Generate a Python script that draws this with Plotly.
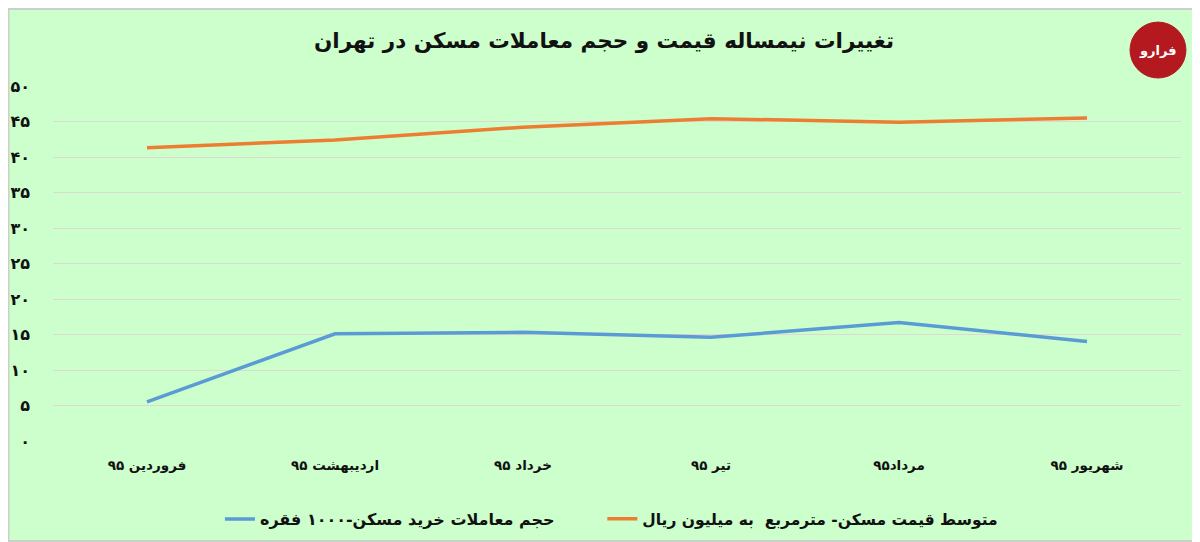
"""Half-year changes of housing price and deal volume in Tehran (1395)."""

import plotly.graph_objects as go

MONTHS = ["فروردین ۹۵", "اردیبهشت ۹۵", "خرداد ۹۵", "تیر ۹۵", "مرداد۹۵", "شهریور ۹۵"]
DEALS = [5.5, 15.1, 15.3, 14.6, 16.7, 14.0]
PRICE = [41.3, 42.4, 44.2, 45.4, 44.9, 45.5]

DEALS_NAME = "حجم معاملات خرید مسکن-۱۰۰۰ فقره"
PRICE_NAME = "متوسط قیمت مسکن- مترمربع  به میلیون ریال"
TITLE = "تغییرات نیمساله قیمت و حجم معاملات مسکن در تهران"

Y_TICKS = [0, 5, 10, 15, 20, 25, 30, 35, 40, 45, 50]
Y_TICK_TEXT = ["۰", "۵", "۱۰", "۱۵", "۲۰", "۲۵", "۳۰", "۳۵", "۴۰", "۴۵", "۵۰"]

FONT = "DejaVu Sans"
BG = "#ccffcc"

fig = go.Figure()
fig.add_trace(
    go.Scatter(
        x=MONTHS,
        y=DEALS,
        mode="lines",
        name=f"<b>{DEALS_NAME}</b>",
        line={"color": "#5b9bd5", "width": 3.5},
        legend="legend",
    )
)
fig.add_trace(
    go.Scatter(
        x=MONTHS,
        y=PRICE,
        mode="lines",
        name=f"<b>{PRICE_NAME}</b>",
        line={"color": "#ed7d31", "width": 3.5},
        legend="legend2",
    )
)

legend_style = {
    "orientation": "h",
    "xanchor": "left",
    "y": -0.22,
    "yanchor": "middle",
    "font": {"size": 16, "color": "#111111"},
    "bgcolor": "rgba(0,0,0,0)",
}

# the page body has an 8px margin, so the figure is a bit smaller than the window
fig.update_layout(
    width=1192,
    height=534,
    paper_bgcolor=BG,
    plot_bgcolor=BG,
    margin={"l": 45, "r": 19, "t": 78, "b": 101, "autoexpand": False},
    font={"family": FONT, "color": "#111111"},
    title={
        "text": f"<b>{TITLE}</b>",
        "x": 0.5,
        "xanchor": "center",
        "y": 0.94,
        "yanchor": "middle",
        "font": {"size": 21.5, "color": "#111111"},
    },
    showlegend=True,
    legend={**legend_style, "x": 0.148},
    legend2={**legend_style, "x": 0.487, "font": {"size": 15.5, "color": "#111111"}},
    xaxis={
        "range": [-0.5, 5.5],
        "showgrid": False,
        "showline": False,
        "zeroline": False,
        "ticks": "",
        "ticklabelstandoff": 14,
        "tickfont": {"size": 13.5},
        "tickvals": MONTHS,
        "ticktext": [f"<b>{m}</b>" for m in MONTHS],
    },
    yaxis={
        "range": [0, 50],
        "tickvals": Y_TICKS,
        "ticktext": [f"<b>{t}</b>" for t in Y_TICK_TEXT],
        "showgrid": True,
        "gridcolor": "#ded9d0",
        "gridwidth": 1,
        "zeroline": False,
        "showline": False,
        "ticks": "",
        "ticklabelstandoff": 22,
        "tickfont": {"size": 16},
    },
    shapes=[
        {
            "type": "rect",
            "xref": "paper",
            "yref": "paper",
            "x0": -0.0395,
            "x1": 1.0155,
            "y0": -0.282,
            "y1": 1.217,
            "line": {"color": "#c9cfc9", "width": 2},
            "fillcolor": "rgba(0,0,0,0)",
        },
        {
            "type": "circle",
            "xref": "paper",
            "yref": "paper",
            "x0": 0.9548,
            "x1": 1.0044,
            "y0": 1.0225,
            "y1": 1.18,
            "line": {"color": "#b3191e", "width": 1},
            "fillcolor": "#b3191e",
        },
    ],
    annotations=[
        {
            "text": "<b>فرارو</b>",
            "xref": "paper",
            "yref": "paper",
            "x": 0.9796,
            "y": 1.101,
            "xanchor": "center",
            "yanchor": "middle",
            "showarrow": False,
            "font": {"size": 13, "color": "white"},
        }
    ],
)

fig.write_html("out.html")
